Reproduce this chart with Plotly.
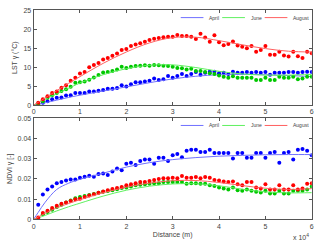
import plotly.graph_objects as go

# distance in units of 1e4 m
dist = [0.1, 0.2, 0.3, 0.4, 0.5, 0.6, 0.7, 0.8, 0.9, 1.0,
        1.1, 1.2, 1.3, 1.4, 1.5, 1.6, 1.7, 1.8, 1.9, 2.0,
        2.1, 2.2, 2.3, 2.4, 2.5, 2.6, 2.7, 2.8, 2.9, 3.0,
        3.1, 3.2, 3.3, 3.4, 3.5, 3.6, 3.7, 3.8, 3.9, 4.0,
        4.1, 4.2, 4.3, 4.4, 4.5, 4.6, 4.7, 4.8, 4.9, 5.0,
        5.1, 5.2, 5.3, 5.4, 5.5, 5.6, 5.7, 5.8, 5.9, 6.0]

lst_april = [0.1, 0.6, 1.0, 1.5, 1.9, 2.0, 2.5, 2.6, 3.2, 3.2,
             3.2, 3.6, 3.6, 3.8, 4.0, 4.3, 4.3, 4.5, 5.2, 4.9,
             5.5, 6.0, 6.0, 6.2, 6.4, 7.0, 6.6, 6.8, 7.7, 7.2,
             7.7, 8.2, 7.7, 8.2, 8.7, 8.0, 8.5, 8.8, 8.8, 8.4,
             8.5, 8.2, 8.8, 8.5, 8.5, 8.7, 8.5, 8.7, 8.5, 8.7,
             8.0, 8.5, 8.5, 8.5, 8.7, 8.7, 8.5, 8.7, 8.8, 8.7]
lst_june = [0.3, 1.0, 1.9, 2.6, 3.2, 3.7, 4.2, 4.8, 5.9, 6.0,
            6.2, 6.7, 7.3, 7.9, 8.6, 8.7, 9.0, 9.4, 10.1, 9.8,
            10.1, 10.3, 10.4, 10.5, 10.4, 10.6, 10.5, 10.4, 10.3, 10.1,
            9.8, 9.7, 9.4, 9.6, 9.0, 9.0, 8.7, 8.4, 8.2, 7.8,
            7.5, 7.2, 7.6, 7.2, 7.2, 7.2, 7.2, 6.6, 6.6, 7.2,
            6.6, 6.6, 7.5, 7.2, 7.2, 7.5, 6.8, 7.0, 7.5, 7.5]
lst_august = [0.6, 1.5, 2.3, 3.2, 3.6, 4.6, 5.2, 6.4, 7.2, 8.3,
              8.7, 10.0, 10.6, 11.1, 12.0, 12.4, 13.0, 13.6, 14.5, 14.8,
              15.6, 16.0, 16.3, 16.7, 17.2, 17.5, 17.7, 17.9, 18.0, 18.0,
              18.5, 18.2, 18.2, 18.0, 17.4, 18.8, 17.8, 16.7, 18.4, 16.6,
              15.8, 16.1, 16.8, 15.7, 15.4, 15.0, 15.6, 14.1, 14.5, 15.6,
              13.3, 13.3, 14.1, 13.1, 12.8, 14.1, 12.9, 12.4, 14.1, 13.7]

ndvi_april = [0.0072, 0.0123, 0.0147, 0.0163, 0.0179, 0.0184, 0.0192, 0.0197, 0.0197, 0.0205,
              0.0211, 0.0216, 0.0211, 0.0224, 0.0227, 0.0219, 0.0237, 0.0251, 0.0243, 0.0275,
              0.0280, 0.0268, 0.0288, 0.0296, 0.0296, 0.0275, 0.0304, 0.0304, 0.0288, 0.0317,
              0.0323, 0.0307, 0.0339, 0.0344, 0.0344, 0.0333, 0.0333, 0.0344, 0.0328, 0.0328,
              0.0328, 0.0328, 0.0301, 0.0328, 0.0328, 0.0304, 0.0304, 0.0328, 0.0328, 0.0304,
              0.0328, 0.0333, 0.0280, 0.0328, 0.0333, 0.0296, 0.0344, 0.0347, 0.0339, 0.0317]
ndvi_june = [0.0003, 0.0025, 0.0037, 0.0048, 0.0061, 0.0072, 0.0083, 0.0093, 0.0104, 0.0110,
             0.0115, 0.0120, 0.0126, 0.0131, 0.0136, 0.0140, 0.0144, 0.0149, 0.0155, 0.0158,
             0.0163, 0.0168, 0.0171, 0.0173, 0.0176, 0.0179, 0.0179, 0.0184, 0.0184, 0.0184,
             0.0184, 0.0184, 0.0176, 0.0179, 0.0179, 0.0176, 0.0176, 0.0168, 0.0165, 0.0157,
             0.0152, 0.0147, 0.0157, 0.0144, 0.0141, 0.0147, 0.0141, 0.0136, 0.0133, 0.0141,
             0.0128, 0.0128, 0.0141, 0.0128, 0.0128, 0.0141, 0.0141, 0.0141, 0.0147, 0.0163]
ndvi_august = [0.0010, 0.0032, 0.0043, 0.0056, 0.0067, 0.0077, 0.0083, 0.0091, 0.0099, 0.0102,
               0.0110, 0.0118, 0.0124, 0.0132, 0.0138, 0.0144, 0.0150, 0.0155, 0.0160, 0.0168,
               0.0174, 0.0179, 0.0184, 0.0184, 0.0190, 0.0195, 0.0200, 0.0203, 0.0203, 0.0206,
               0.0203, 0.0214, 0.0206, 0.0206, 0.0209, 0.0203, 0.0209, 0.0206, 0.0195, 0.0192,
               0.0187, 0.0184, 0.0187, 0.0173, 0.0168, 0.0184, 0.0184, 0.0157, 0.0152, 0.0173,
               0.0147, 0.0147, 0.0168, 0.0147, 0.0147, 0.0168, 0.0147, 0.0152, 0.0176, 0.0179]

# fitted curves
fit_x = [0, 0.1, 0.25, 0.5, 0.75, 1, 1.5, 2, 2.5, 3, 3.5, 4, 4.5, 5, 5.5, 6]
lst_fit_april = [0, 0.25, 0.6, 1.3, 2.0, 2.6, 3.7, 4.8, 5.9, 6.9, 7.6, 8.0, 8.1, 8.0, 7.8, 7.5]
lst_fit_june = [0, 0.6, 1.5, 3.0, 4.4, 5.8, 8.0, 9.6, 10.5, 10.6, 9.9, 8.9, 8.2, 7.9, 7.9, 8.1]
lst_fit_august = [0, 0.7, 1.9, 3.8, 5.7, 7.5, 11.0, 14.0, 16.4, 17.8, 17.9, 17.0, 15.9, 14.9, 14.2, 14.0]
ndvi_fit_april = [0, 0.0035, 0.0085, 0.0148, 0.0178, 0.0198, 0.0228, 0.0258, 0.0280, 0.0295,
                  0.0305, 0.0312, 0.0316, 0.0319, 0.0320, 0.0320]
ndvi_fit_june = [0, 0.0008, 0.0020, 0.0042, 0.0062, 0.0080, 0.0115, 0.0144, 0.0164, 0.0175,
                 0.0176, 0.0166, 0.0149, 0.0136, 0.0131, 0.0132]
ndvi_fit_august = [0, 0.0012, 0.0030, 0.0057, 0.0078, 0.0097, 0.0131, 0.0159, 0.0179, 0.0191,
                   0.0192, 0.0182, 0.0167, 0.0154, 0.0148, 0.0152]

months = ["April", "June", "August"]
dot_colors = ["#0000ff", "#00c800", "#ff0000"]
line_colors = ["#7070ff", "#60f060", "#ff6060"]

W, H = 320, 247
fig = go.Figure()

lst_pts = [lst_april, lst_june, lst_august]
lst_fits = [lst_fit_april, lst_fit_june, lst_fit_august]
ndvi_pts = [ndvi_april, ndvi_june, ndvi_august]
ndvi_fits = [ndvi_fit_april, ndvi_fit_june, ndvi_fit_august]

for i, m in enumerate(months):
    fig.add_trace(go.Scatter(x=dist, y=lst_pts[i], mode="markers",
                             marker=dict(color=dot_colors[i], size=4),
                             showlegend=False, xaxis="x", yaxis="y"))
    fig.add_trace(go.Scatter(x=fit_x, y=lst_fits[i], mode="lines", name=m,
                             line=dict(color=line_colors[i], width=1, shape="spline"),
                             showlegend=False, xaxis="x", yaxis="y"))
for i, m in enumerate(months):
    fig.add_trace(go.Scatter(x=dist, y=ndvi_pts[i], mode="markers",
                             marker=dict(color=dot_colors[i], size=4),
                             showlegend=False, xaxis="x2", yaxis="y2"))
    fig.add_trace(go.Scatter(x=fit_x, y=ndvi_fits[i], mode="lines", name=m,
                             line=dict(color=line_colors[i], width=1, shape="spline"),
                             showlegend=False, xaxis="x2", yaxis="y2"))

# legend drawn as key lines + labels (pixel layout of the legend boxes)
leg_line_x0 = [181, 223, 266]
leg_line_len = 23
leg_rows_y = [14, 125]
shapes = []
annotations = []
for ly in leg_rows_y:
    for i, m in enumerate(months):
        x0 = leg_line_x0[i]
        shapes.append(dict(type="line", xref="paper", yref="paper",
                           x0=x0 / W, x1=(x0 + leg_line_len) / W,
                           y0=1 - ly / H, y1=1 - ly / H,
                           line=dict(color=line_colors[i], width=1)))
        annotations.append(dict(text=m, xref="paper", yref="paper",
                                x=(x0 + leg_line_len + 4) / W, y=1 - ly / H,
                                xanchor="left", yanchor="middle", showarrow=False,
                                font=dict(family="Liberation Sans, Arial, sans-serif",
                                          size=5, color="#444")))

annotations.append(dict(text="x 10<sup>4</sup>", x=313 / W, y=1 - 240 / H, xref="paper",
                        yref="paper", xanchor="right", yanchor="middle", showarrow=False,
                        font=dict(family="Liberation Sans, Arial, sans-serif", size=7, color="#444")))

tickfont = dict(family="Liberation Sans, Arial, sans-serif", size=7, color="#444")
titlefont = dict(family="Liberation Sans, Arial, sans-serif", size=7, color="#444")
axis_common = dict(showline=True, linecolor="#555", linewidth=1, mirror="ticks",
                   ticks="inside", ticklen=3, tickcolor="#555", showgrid=False,
                   zeroline=False, tickfont=tickfont)

xd = [32 / W, 313.7 / W]
fig.update_layout(
    width=W, height=H,
    margin=dict(l=0, r=0, t=0, b=0),
    paper_bgcolor="white", plot_bgcolor="white",
    showlegend=False,
    xaxis=dict(domain=xd, range=[0, 6], tickvals=[0, 1, 2, 3, 4, 5, 6], anchor="y", **axis_common),
    yaxis=dict(domain=[1 - 104 / H, 1 - 6.5 / H], range=[0, 25],
               tickvals=[0, 5, 10, 15, 20, 25], anchor="x",
               title=dict(text="LST γ (°C)", font=titlefont, standoff=4),
               **axis_common),
    xaxis2=dict(domain=xd, range=[0, 6], tickvals=[0, 1, 2, 3, 4, 5, 6], anchor="y2",
                title=dict(text="Distance (m)", font=titlefont, standoff=3),
                **axis_common),
    yaxis2=dict(domain=[1 - 221.7 / H, 1 - 117.4 / H], range=[0, 0.05],
                tickvals=[0, 0.01, 0.02, 0.03, 0.04, 0.05],
                ticktext=["0", "0.01", "0.02", "0.03", "0.04", "0.05"], anchor="x2",
                title=dict(text="NDVI γ [-]", font=titlefont, standoff=4),
                **axis_common),
    shapes=shapes,
    annotations=annotations,
)

fig.write_html("out.html", config={"displayModeBar": False},
               post_script="document.body.style.margin='0';document.body.style.overflow='hidden';")
